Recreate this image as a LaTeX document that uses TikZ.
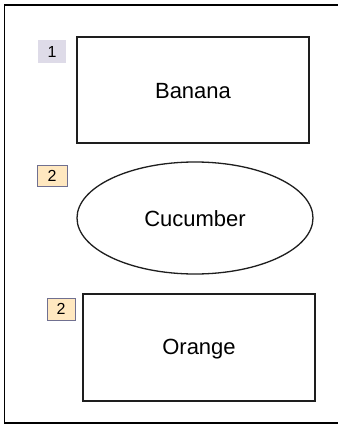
\documentclass[tikz,border=0pt]{standalone}
\usepackage{fontspec}
\setmainfont{Liberation Sans}
\usetikzlibrary{shapes.geometric}
\definecolor{lavfill}{RGB}{222,219,232}
\definecolor{peach}{RGB}{255,232,192}
\definecolor{tagline}{RGB}{112,112,144}
\definecolor{shapeline}{RGB}{30,30,30}
\begin{document}
\begin{tikzpicture}[x=1pt,y=-1pt,
  shapebox/.style={draw=shapeline,line width=1.3pt},
  lbl/.style={font=\fontsize{22}{24}\selectfont},
  tagone/.style={fill=lavfill},
  tagtwo/.style={fill=peach,draw=tagline,line width=1pt},
  tagtext/.style={font=\fontsize{16}{18}\selectfont}]
\useasboundingbox (0,0) rectangle (337,425);
\fill[white] (0,0) rectangle (337,425);
% outer frame (right side beyond image)
\draw[line width=1.6pt] (340,5) -- (4.5,5) -- (4.5,423) -- (340,423);
% Banana
\draw[shapebox] (77,37) rectangle (309,143);
\node[lbl] (banana) at (193,91) {Banana};
\fill[tagone] (38,40) rectangle (66,63);
\node[tagtext] (t1) at (52,51.5) {1};
% Cucumber
\draw[shapebox] (195,218) ellipse [x radius=118, y radius=56];
\node[lbl] (cucumber) at (195,219) {Cucumber};
\draw[tagtwo] (37,165) rectangle (67,186);
\node[tagtext] (t2) at (52,175.5) {2};
% Orange
\draw[shapebox] (83,294) rectangle (315,401);
\node[lbl] (orange) at (199,349) {Orange};
\draw[tagtwo] (47,298) rectangle (75,320);
\node[tagtext] (t3) at (61,309) {2};
\end{tikzpicture}
\end{document}
